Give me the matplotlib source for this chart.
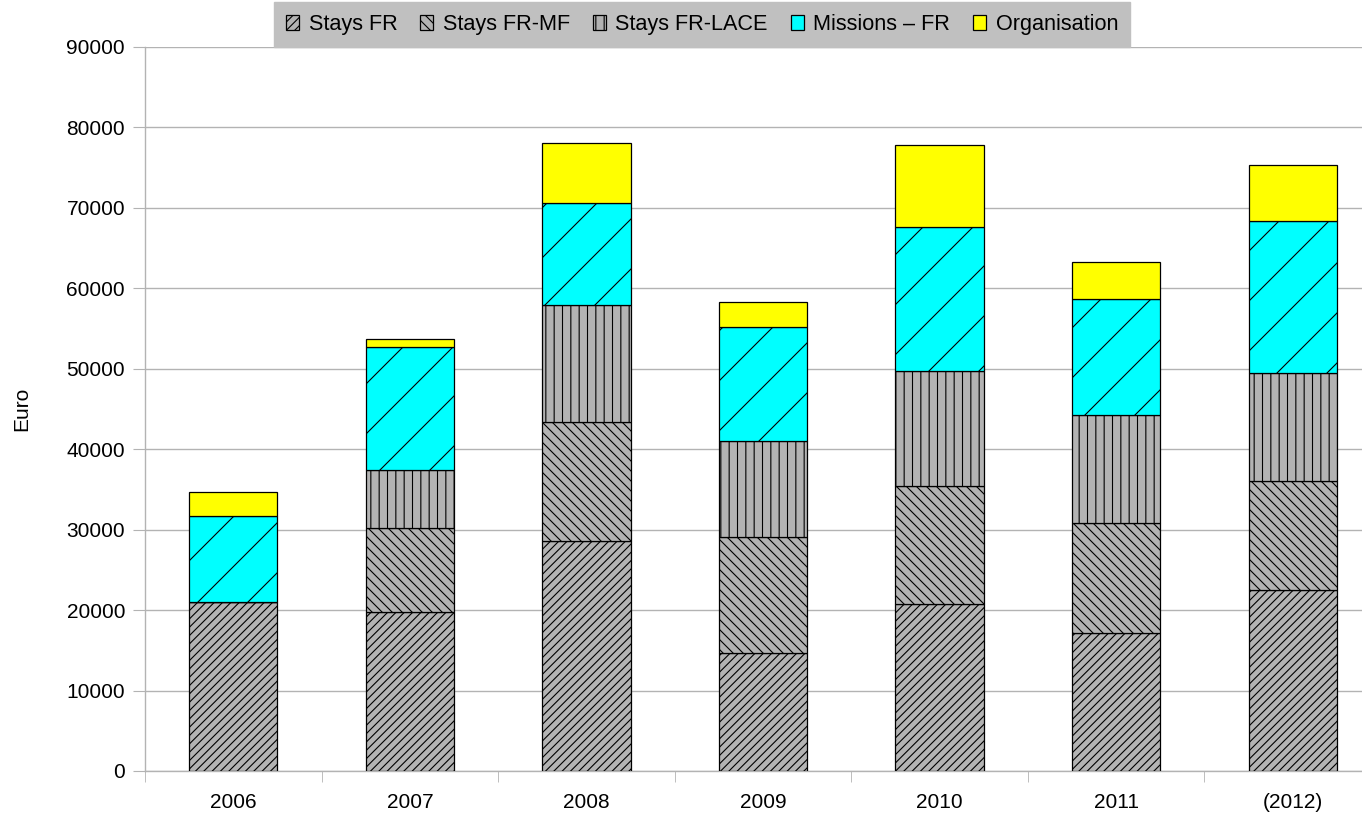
import numpy as np
import matplotlib
matplotlib.use("Agg")
import matplotlib.pyplot as plt
import matplotlib.hatch as mh

# Custom hatch densities (lines per unit tile) to mimic the reference patterns
class NEHatch(mh.NorthEastHatch):
    def __init__(self, hatch, density):
        self.num_lines = int(hatch.count('/') * 4)
        self.num_vertices = (self.num_lines + 1) * 2 if self.num_lines else 0

class SEHatch(mh.SouthEastHatch):
    def __init__(self, hatch, density):
        self.num_lines = int(hatch.count('\\') * 10)
        self.num_vertices = (self.num_lines + 1) * 2 if self.num_lines else 0

mh._hatch_types[:] = [NEHatch if t is mh.NorthEastHatch else
                      SEHatch if t is mh.SouthEastHatch else t
                      for t in mh._hatch_types]

plt.rcParams['font.family'] = ['Liberation Sans', 'DejaVu Sans']
plt.rcParams['hatch.linewidth'] = 0.8

years = ['2006', '2007', '2008', '2009', '2010', '2011', '(2012)']
stays_fr = [21000, 19800, 28600, 14700, 20800, 17200, 22500]
stays_fr_mf = [0, 10400, 14800, 14400, 14600, 13600, 13500]
stays_fr_lace = [0, 7200, 14500, 11900, 14300, 13500, 13500]
missions_fr = [10700, 15300, 12700, 14200, 17900, 14400, 18900]
organisation = [3000, 1000, 7500, 3100, 10200, 4600, 6900]

series = [
    ('Stays FR', stays_fr, '#b3b3b3', '//////'),
    ('Stays FR-MF', stays_fr_mf, '#b3b3b3', '\\\\'),
    ('Stays FR-LACE', stays_fr_lace, '#b3b3b3', '||'),
    ('Missions – FR', missions_fr, '#00ffff', '/'),
    ('Organisation', organisation, '#ffff00', None),
]

fig = plt.figure(figsize=(13.62, 8.17), dpi=100)
ax = fig.add_axes([145/1362, 46/817, 1236/1362, 724/817])

x = np.arange(len(years))
bottom = np.zeros(len(years))
handles = []
for name, vals, color, hatch in series:
    vals = np.array(vals, dtype=float)
    bars = ax.bar(x, vals, width=0.5, bottom=bottom, color=color, edgecolor='black',
                  linewidth=0.9, hatch=hatch, label=name, zorder=3)
    bottom += vals
    handles.append(bars)

ax.set_xlim(-0.5, len(years) - 0.5)
ax.set_ylim(0, 90000)
ax.set_yticks(np.arange(0, 90001, 10000))
ax.set_yticklabels([str(v) for v in range(0, 90001, 10000)])
ax.set_xticks(x)
ax.set_xticklabels(years)
ax.set_xticks(np.arange(-0.5, len(years), 1.0), minor=True)
ax.tick_params(axis='x', which='major', length=0, pad=16, labelsize=15)
ax.tick_params(axis='x', which='minor', length=8, color='#b3b3b3', direction='out')
ax.tick_params(axis='y', length=8.6, color='#b3b3b3', pad=5.8, labelsize=15)
ax.grid(axis='y', color='#b3b3b3', linewidth=1, zorder=0)
ax.set_axisbelow(True)
for s in ['top', 'right']:
    ax.spines[s].set_visible(False)
for s in ['left', 'bottom']:
    ax.spines[s].set_color('#b3b3b3')
    ax.spines[s].set_linewidth(1)
ax.set_ylabel('Euro', fontsize=15)
ax.yaxis.set_label_coords((31 - 145) / 1236, 0.5)

leg = fig.legend(handles=handles, labels=[s[0] for s in series], loc='upper center',
                 bbox_to_anchor=(702/1362, 1 - 2/817), ncol=5, fontsize=15.6,
                 frameon=True, fancybox=False, handlelength=0.6, handleheight=0.65,
                 handletextpad=0.45, columnspacing=1.05, borderpad=0.55, borderaxespad=0)
leg.get_frame().set_facecolor('#c0c0c0')
leg.get_frame().set_edgecolor('#c0c0c0')
leg.get_frame().set_alpha(1)

fig.savefig('out.png', dpi=100)
